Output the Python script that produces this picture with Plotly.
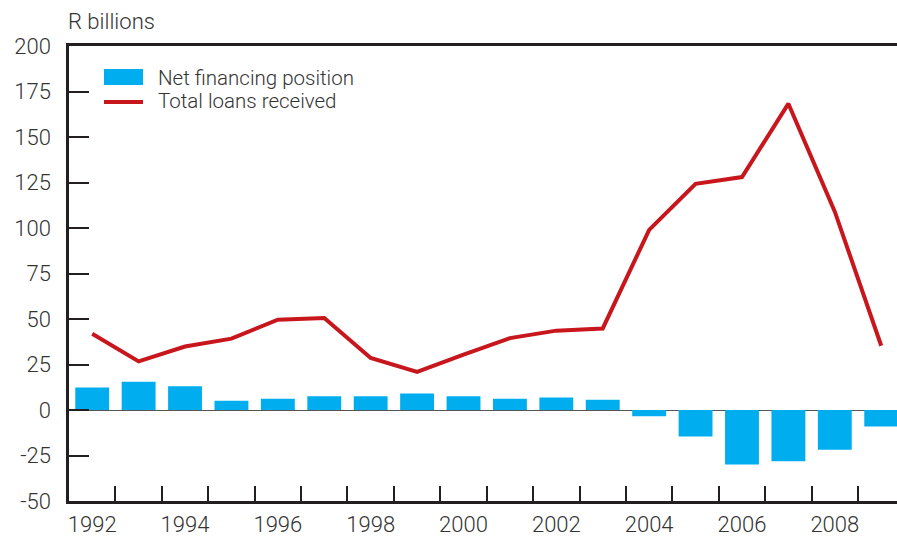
import plotly.graph_objects as go

# Annual series, R billions
years = list(range(1992, 2010))
net_financing = [12.3, 15.5, 13.0, 5.1, 6.2, 7.5, 7.5, 9.0, 7.5, 6.2, 6.9, 5.7,
                 -3.5, -14.5, -30.0, -28.2, -21.8, -9.0]
total_loans = [41.9, 26.7, 34.9, 39.2, 49.6, 50.5, 28.6, 20.9, 30.4, 39.5, 43.6, 44.8,
               99.0, 124.3, 128.0, 168.3, 109.0, 35.3]
y_ticks = [-50, -25, 0, 25, 50, 75, 100, 125, 150, 175, 200]
y_tick_text = ["-50", "-25", "0", "25", "50", "75", "100", "125", "150", "175", "200"]
x_label_years = [1992, 1994, 1996, 1998, 2000, 2002, 2004, 2006, 2008]

W, H = 897, 536
L, R, T, B = 69, 0, 46, 35

BLUE = "#00aeef"
RED = "#c8161d"
INK = "#231f20"
TEXT = "#333333"
FONT = "Roboto"
TICK_FONT = dict(family=FONT, size=22, color=TEXT, weight=300)
LEGEND_FONT = dict(family=FONT, size=20.5, color=TEXT, weight=300)


def px(x):
    return (x - L) / (W - L - R)


def py(y):
    return 1 - (y - T) / (H - T - B)


fig = go.Figure()
fig.add_trace(go.Bar(x=years, y=net_financing, marker_color=BLUE, width=0.73,
                     marker_line_width=0, name="Net financing position"))
fig.add_trace(go.Scatter(x=years, y=total_loans, mode="lines",
                         line=dict(color=RED, width=4), name="Total loans received"))

fig.update_layout(
    width=W, height=H,
    margin=dict(l=L, r=R, t=T, b=B),
    plot_bgcolor="white", paper_bgcolor="white",
    showlegend=False,
    font=TICK_FONT,
    xaxis=dict(
        range=[1991.5, 2009.34],
        showline=True, linecolor=INK, linewidth=2.5, mirror=True,
        showgrid=False, zeroline=False,
        tickvals=x_label_years, ticks="",
        tickfont=TICK_FONT, ticklabelstandoff=2,
        minor=dict(tickvals=[y + 0.5 for y in years[:-1]], ticks="inside",
                   ticklen=15, tickwidth=2, tickcolor=INK, showgrid=False),
    ),
    yaxis=dict(
        range=[-50, 200],
        showline=True, linecolor=INK, linewidth=2.5,
        showgrid=False,
        zeroline=True, zerolinecolor="#555555", zerolinewidth=1,
        tickvals=y_ticks, ticktext=y_tick_text,
        ticks="inside", ticklen=20, tickwidth=2, tickcolor=INK,
        tickfont=TICK_FONT, ticklabelstandoff=11,
    ),
)

# Axis unit label
fig.add_annotation(text="R billions", xref="paper", yref="paper",
                   x=px(66), y=py(22), xanchor="left", yanchor="middle",
                   showarrow=False, font=TICK_FONT)

# Legend drawn as swatches plus text
fig.add_shape(type="rect", xref="paper", yref="paper",
              x0=px(104), x1=px(143), y0=py(85), y1=py(69),
              fillcolor=BLUE, line_width=0)
fig.add_shape(type="line", xref="paper", yref="paper",
              x0=px(104), x1=px(143), y0=py(102), y1=py(102),
              line=dict(color=RED, width=4))
fig.add_annotation(text="Net financing position", xref="paper", yref="paper",
                   x=px(156), y=py(78), xanchor="left", yanchor="middle",
                   showarrow=False, font=LEGEND_FONT)
fig.add_annotation(text="Total loans received", xref="paper", yref="paper",
                   x=px(156), y=py(101), xanchor="left", yanchor="middle",
                   showarrow=False, font=LEGEND_FONT)

fig.write_html("out.html")
